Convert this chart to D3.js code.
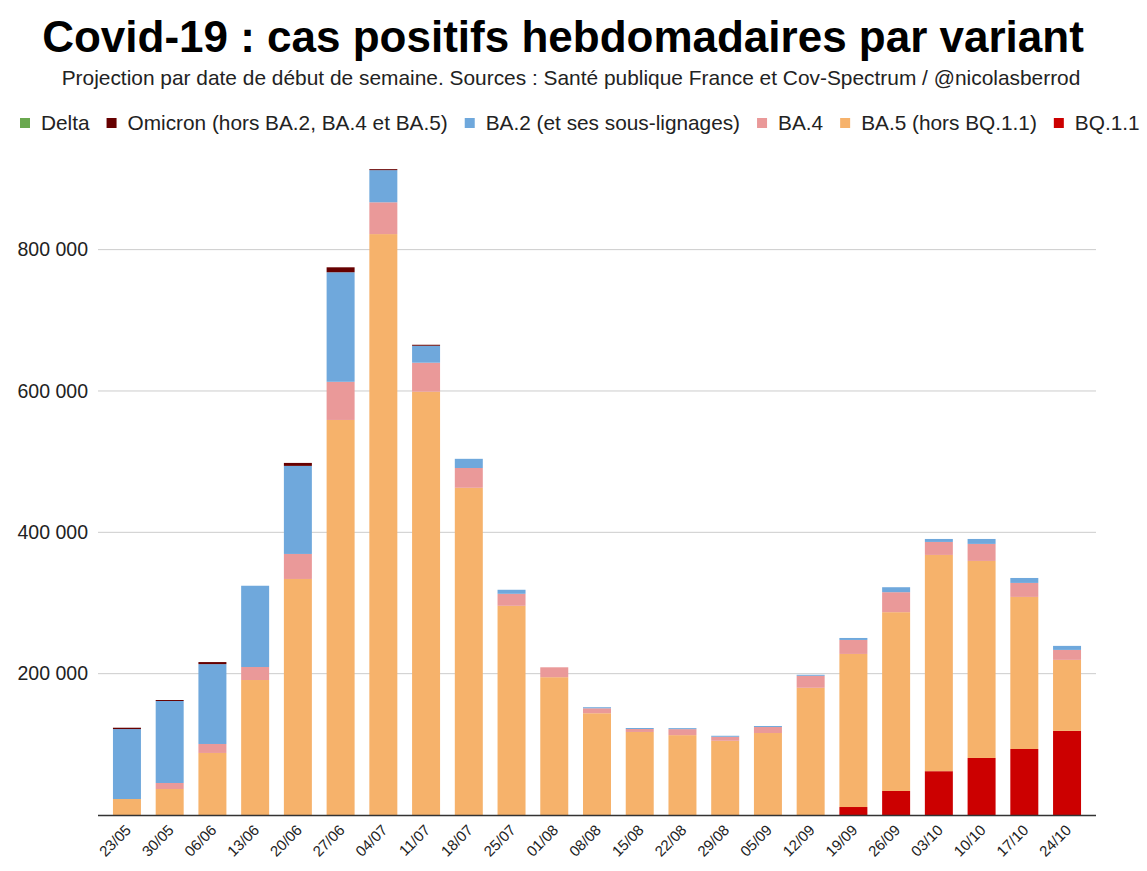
<!DOCTYPE html>
<html>
<head>
<meta charset="utf-8">
<script src="https://cdn.jsdelivr.net/npm/d3@7"></script>
<style>
  body { margin: 0; background: #fff; }
  text { font-family: "Liberation Sans", Arial, sans-serif; }
</style>
</head>
<body>
<div id="chart"></div>
<script>
// semaines (date de début)
var weeks = ["23/05","30/05","06/06","13/06","20/06","27/06","04/07","11/07","18/07","25/07","01/08","08/08",
             "15/08","22/08","29/08","05/09","12/09","19/09","26/09","03/10","10/10","17/10","24/10"];

var variants = ["Delta", "Omicron (hors BA.2, BA.4 et BA.5)", "BA.2 (et ses sous-lignages)", "BA.4", "BA.5 (hors BQ.1.1)", "BQ.1.1"];
var colors = ["#6aa84f", "#660000", "#6fa8dc", "#ea9999", "#f6b26b", "#cc0000"];

// valeurs
var delta   = [0,0,0,0,0,0,0,0,0,0,0,0,0,0,0,0,0,0,0,0,0,0,0];
var omicron = [1900,1400,2900,0,4200,7000,1400,1400,0,0,0,0,0,0,0,0,0,0,0,0,0,0,0];
var ba2     = [99000,116000,113000,115000,124600,155000,45500,24000,13000,5700,0,1500,1400,1400,1400,1400,1400,2800,7000,4200,7000,7000,5700];
var ba4     = [0,8500,12700,18400,35400,54000,45000,41000,28000,17000,14000,7000,4200,8500,5700,8500,17000,19800,28300,18400,24100,19800,14100];
var ba5     = [22600,36800,87800,191000,334000,559000,822000,599000,463000,296000,195000,144000,117500,113000,105000,116000,180000,216600,253000,306000,278800,215200,100500];
var bq11    = [0,0,0,0,0,0,0,0,0,0,0,0,0,0,0,0,0,11300,34000,62000,80700,93400,119000];

var yTicks = [200000, 400000, 600000, 800000];

var W = 1147, H = 871;
var left = 98, right = 1096, bottom = 815;

var svg = d3.select("#chart").append("svg")
    .attr("width", W)
    .attr("height", H);

var series = [delta, omicron, ba2, ba4, ba5, bq11];
var rows = weeks.map(function(w, i) {
  var r = {week: w};
  variants.forEach(function(v, k) { r[v] = series[k][i]; });
  return r;
});

// empilement : BQ.1.1 en bas, puis BA.5, BA.4, BA.2, Omicron, Delta
var stackOrder = variants.slice().reverse();
var stacked = d3.stack().keys(stackOrder)(rows);

var x = d3.scaleBand()
    .domain(weeks)
    .range([left, right])
    .paddingInner(0.345)
    .paddingOuter(0.35);

var y = d3.scaleLinear()
    .domain([0, 1000000])
    .range([bottom, bottom - 706.7]);

// grille
svg.append("g")
  .selectAll("line")
  .data(yTicks)
  .enter()
  .append("line")
    .attr("x1", left)
    .attr("x2", right)
    .attr("y1", function(d) { return y(d); })
    .attr("y2", function(d) { return y(d); })
    .attr("stroke", "#cccccc")
    .attr("stroke-width", 1);

svg.append("g")
  .selectAll("text")
  .data(yTicks)
  .enter()
  .append("text")
    .attr("x", 88)
    .attr("y", function(d) { return y(d); })
    .attr("dy", "0.35em")
    .attr("text-anchor", "end")
    .attr("font-size", "19.5px")
    .attr("fill", "#222")
    .text(function(d) { return d3.format(",")(d).replace(/,/g, " "); });

// barres
svg.append("g")
  .selectAll("g")
  .data(stacked)
  .enter()
  .append("g")
    .attr("fill", function(d) { return colors[variants.indexOf(d.key)]; })
  .selectAll("rect")
  .data(function(d) { return d; })
  .enter()
  .append("rect")
    .attr("x", function(d) { return x(d.data.week); })
    .attr("width", x.bandwidth())
    .attr("y", function(d) { return y(d[1]); })
    .attr("height", function(d) { return y(d[0]) - y(d[1]); });

// ligne de base
svg.append("line")
  .attr("x1", left)
  .attr("x2", right)
  .attr("y1", bottom + 0.5)
  .attr("y2", bottom + 0.5)
  .attr("stroke", "#333")
  .attr("stroke-width", 1.3);

// étiquettes x
svg.append("g")
  .selectAll("text")
  .data(weeks)
  .enter()
  .append("text")
    .attr("transform", function(d) {
      return "translate(" + (x(d) + x.bandwidth() / 2 + 5) + "," + (bottom + 16) + ") rotate(-45)";
    })
    .attr("text-anchor", "end")
    .attr("font-size", "15px")
    .attr("fill", "#222")
    .text(function(d) { return d; });

// titre
svg.append("text")
  .attr("x", 563)
  .attr("y", 52)
  .attr("text-anchor", "middle")
  .attr("font-size", "44px")
  .attr("font-weight", "bold")
  .attr("fill", "#000")
  .text("Covid-19 : cas positifs hebdomadaires par variant");

svg.append("text")
  .attr("x", 571)
  .attr("y", 85)
  .attr("text-anchor", "middle")
  .attr("font-size", "20.9px")
  .attr("fill", "#222")
  .text("Projection par date de début de semaine. Sources : Santé publique France et Cov-Spectrum / @nicolasberrod");

// légende
var lx = 20;
variants.forEach(function(v, k) {
  var g = svg.append("g").attr("transform", "translate(" + lx + ",123)");
  g.append("rect")
    .attr("x", 0).attr("y", -5)
    .attr("width", 10).attr("height", 10)
    .attr("fill", colors[k]);
  var t = g.append("text")
    .attr("x", 21)
    .attr("dy", "0.35em")
    .attr("font-size", "20.8px")
    .attr("fill", "#222")
    .text(v);
  lx += 21 + t.node().getComputedTextLength() + 17;
});
</script>
</body>
</html>
